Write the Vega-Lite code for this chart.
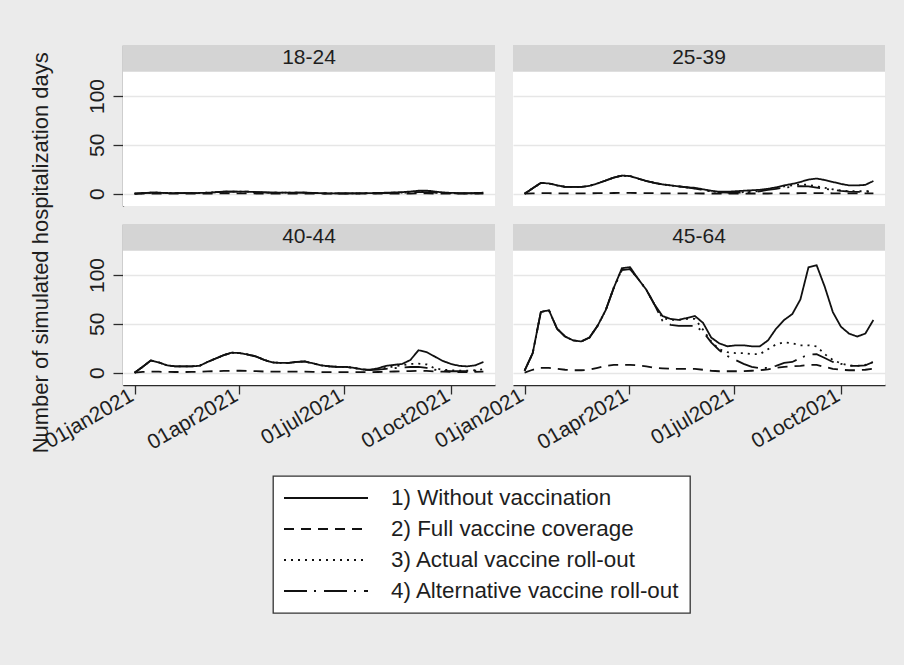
{
  "$schema": "https://vega.github.io/schema/vega-lite/v6.json",
  "background": "#ebebeb",
  "padding": {"left": 30, "top": 44, "right": 20, "bottom": 52},
  "title": {"text": "Number of simulated hospitalization days", "orient": "left", "anchor": "middle", "fontSize": 22, "fontWeight": "normal", "color": "#1e1e1e", "font": "Liberation Sans", "offset": -12, "dx": 76},
  "config": {
    "font": "Liberation Sans",
    "view": {"fill": "white", "stroke": null},
    "header": {"labels": false, "title": null, "labelPadding": 0, "titlePadding": 0},
    "axis": {"domainColor": "#2b2b2b", "tickColor": "#2b2b2b", "domainWidth": 1.3, "tickWidth": 1.3, "labelColor": "#1e1e1e", "titleColor": "#1e1e1e", "labelFontSize": 21, "titleFontSize": 21, "titleFontWeight": "normal", "gridColor": "#e6e6e6", "gridWidth": 1.5},
    "legend": {"strokeWidth": 1.3}
  },
  "data": {"values": [
    {"age":"18-24","date":"2021-01-01","without":0,"full":0,"actual":0,"alternative":0},
    {"age":"18-24","date":"2021-01-08","without":0.5,"full":0.1,"actual":0.5,"alternative":0.5},
    {"age":"18-24","date":"2021-01-15","without":1,"full":0.2,"actual":1,"alternative":1},
    {"age":"18-24","date":"2021-01-22","without":1,"full":0.2,"actual":1,"alternative":1},
    {"age":"18-24","date":"2021-01-29","without":0.7,"full":0.2,"actual":0.7,"alternative":0.7},
    {"age":"18-24","date":"2021-02-05","without":0.5,"full":0.1,"actual":0.5,"alternative":0.5},
    {"age":"18-24","date":"2021-02-12","without":0.5,"full":0.1,"actual":0.5,"alternative":0.5},
    {"age":"18-24","date":"2021-02-19","without":0.5,"full":0.1,"actual":0.5,"alternative":0.5},
    {"age":"18-24","date":"2021-02-26","without":0.7,"full":0.1,"actual":0.7,"alternative":0.7},
    {"age":"18-24","date":"2021-03-05","without":1,"full":0.2,"actual":1,"alternative":1},
    {"age":"18-24","date":"2021-03-12","without":1.5,"full":0.2,"actual":1.5,"alternative":1.5},
    {"age":"18-24","date":"2021-03-19","without":2,"full":0.3,"actual":2,"alternative":2},
    {"age":"18-24","date":"2021-03-26","without":2.2,"full":0.3,"actual":2.2,"alternative":2.2},
    {"age":"18-24","date":"2021-04-02","without":2.2,"full":0.3,"actual":2.2,"alternative":2.2},
    {"age":"18-24","date":"2021-04-09","without":2,"full":0.3,"actual":2,"alternative":2},
    {"age":"18-24","date":"2021-04-16","without":1.6,"full":0.2,"actual":1.6,"alternative":1.6},
    {"age":"18-24","date":"2021-04-23","without":1.3,"full":0.2,"actual":1.3,"alternative":1.3},
    {"age":"18-24","date":"2021-04-30","without":1,"full":0.2,"actual":1,"alternative":1},
    {"age":"18-24","date":"2021-05-07","without":1,"full":0.2,"actual":1,"alternative":1},
    {"age":"18-24","date":"2021-05-14","without":1,"full":0.2,"actual":1,"alternative":1},
    {"age":"18-24","date":"2021-05-21","without":1,"full":0.2,"actual":1,"alternative":1},
    {"age":"18-24","date":"2021-05-28","without":1,"full":0.2,"actual":1,"alternative":1},
    {"age":"18-24","date":"2021-06-04","without":0.8,"full":0.1,"actual":0.7,"alternative":0.7},
    {"age":"18-24","date":"2021-06-11","without":0.5,"full":0.1,"actual":0.4,"alternative":0.4},
    {"age":"18-24","date":"2021-06-18","without":0.4,"full":0.1,"actual":0.3,"alternative":0.3},
    {"age":"18-24","date":"2021-06-25","without":0.4,"full":0.1,"actual":0.3,"alternative":0.3},
    {"age":"18-24","date":"2021-07-02","without":0.4,"full":0.1,"actual":0.3,"alternative":0.3},
    {"age":"18-24","date":"2021-07-09","without":0.4,"full":0.1,"actual":0.3,"alternative":0.3},
    {"age":"18-24","date":"2021-07-16","without":0.5,"full":0.1,"actual":0.4,"alternative":0.3},
    {"age":"18-24","date":"2021-07-23","without":0.6,"full":0.1,"actual":0.5,"alternative":0.4},
    {"age":"18-24","date":"2021-07-30","without":0.8,"full":0.1,"actual":0.6,"alternative":0.5},
    {"age":"18-24","date":"2021-08-06","without":1,"full":0.2,"actual":0.8,"alternative":0.6},
    {"age":"18-24","date":"2021-08-13","without":1.3,"full":0.2,"actual":1,"alternative":0.8},
    {"age":"18-24","date":"2021-08-20","without":1.6,"full":0.2,"actual":1.2,"alternative":1},
    {"age":"18-24","date":"2021-08-27","without":2.2,"full":0.2,"actual":1.6,"alternative":1.3},
    {"age":"18-24","date":"2021-09-03","without":3,"full":0.3,"actual":2,"alternative":1.6},
    {"age":"18-24","date":"2021-09-10","without":3.2,"full":0.3,"actual":2,"alternative":1.6},
    {"age":"18-24","date":"2021-09-17","without":2.2,"full":0.2,"actual":1.4,"alternative":1.1},
    {"age":"18-24","date":"2021-09-24","without":1.3,"full":0.2,"actual":0.8,"alternative":0.7},
    {"age":"18-24","date":"2021-10-01","without":0.8,"full":0.1,"actual":0.5,"alternative":0.4},
    {"age":"18-24","date":"2021-10-08","without":0.6,"full":0.1,"actual":0.4,"alternative":0.3},
    {"age":"18-24","date":"2021-10-15","without":0.6,"full":0.1,"actual":0.4,"alternative":0.3},
    {"age":"18-24","date":"2021-10-22","without":0.7,"full":0.1,"actual":0.4,"alternative":0.3},
    {"age":"18-24","date":"2021-10-29","without":1,"full":0.1,"actual":0.5,"alternative":0.4},
    {"age":"25-39","date":"2021-01-01","without":0,"full":0,"actual":0,"alternative":0},
    {"age":"25-39","date":"2021-01-08","without":5.5,"full":0.3,"actual":5.5,"alternative":5.5},
    {"age":"25-39","date":"2021-01-15","without":11,"full":0.5,"actual":11,"alternative":11},
    {"age":"25-39","date":"2021-01-22","without":10.5,"full":0.5,"actual":10.5,"alternative":10.5},
    {"age":"25-39","date":"2021-01-29","without":8.5,"full":0.4,"actual":8.5,"alternative":8.5},
    {"age":"25-39","date":"2021-02-05","without":7,"full":0.3,"actual":7,"alternative":7},
    {"age":"25-39","date":"2021-02-12","without":7,"full":0.3,"actual":7,"alternative":7},
    {"age":"25-39","date":"2021-02-19","without":7,"full":0.3,"actual":7,"alternative":7},
    {"age":"25-39","date":"2021-02-26","without":8,"full":0.4,"actual":8,"alternative":8},
    {"age":"25-39","date":"2021-03-05","without":10.5,"full":0.5,"actual":10.5,"alternative":10.5},
    {"age":"25-39","date":"2021-03-12","without":13.5,"full":0.6,"actual":13.5,"alternative":13.5},
    {"age":"25-39","date":"2021-03-19","without":16.5,"full":0.7,"actual":16.5,"alternative":16.5},
    {"age":"25-39","date":"2021-03-26","without":18.5,"full":0.8,"actual":18.5,"alternative":18.5},
    {"age":"25-39","date":"2021-04-02","without":18,"full":0.8,"actual":18,"alternative":18},
    {"age":"25-39","date":"2021-04-09","without":15.5,"full":0.7,"actual":15.5,"alternative":15.5},
    {"age":"25-39","date":"2021-04-16","without":13,"full":0.6,"actual":13,"alternative":13},
    {"age":"25-39","date":"2021-04-23","without":11,"full":0.5,"actual":11,"alternative":11},
    {"age":"25-39","date":"2021-04-30","without":9.5,"full":0.4,"actual":9.5,"alternative":9.5},
    {"age":"25-39","date":"2021-05-07","without":8.5,"full":0.4,"actual":8.5,"alternative":8.5},
    {"age":"25-39","date":"2021-05-14","without":7.5,"full":0.3,"actual":7.5,"alternative":7.5},
    {"age":"25-39","date":"2021-05-21","without":6.5,"full":0.3,"actual":6.5,"alternative":6.5},
    {"age":"25-39","date":"2021-05-28","without":6,"full":0.3,"actual":5.5,"alternative":5.3},
    {"age":"25-39","date":"2021-06-04","without":4.5,"full":0.2,"actual":4,"alternative":3.8},
    {"age":"25-39","date":"2021-06-11","without":3,"full":0.2,"actual":2.5,"alternative":2.3},
    {"age":"25-39","date":"2021-06-18","without":2,"full":0.1,"actual":1.5,"alternative":1.3},
    {"age":"25-39","date":"2021-06-25","without":2,"full":0.1,"actual":1.2,"alternative":1},
    {"age":"25-39","date":"2021-07-02","without":2.5,"full":0.1,"actual":1.2,"alternative":1},
    {"age":"25-39","date":"2021-07-09","without":3,"full":0.1,"actual":1.5,"alternative":1.2},
    {"age":"25-39","date":"2021-07-16","without":3.5,"full":0.2,"actual":2,"alternative":1.6},
    {"age":"25-39","date":"2021-07-23","without":4,"full":0.2,"actual":3,"alternative":2.5},
    {"age":"25-39","date":"2021-07-30","without":5,"full":0.2,"actual":4.5,"alternative":3.8},
    {"age":"25-39","date":"2021-08-06","without":6.5,"full":0.3,"actual":6,"alternative":5},
    {"age":"25-39","date":"2021-08-13","without":8.5,"full":0.3,"actual":7.5,"alternative":6.2},
    {"age":"25-39","date":"2021-08-20","without":10,"full":0.4,"actual":8.5,"alternative":7},
    {"age":"25-39","date":"2021-08-27","without":12,"full":0.5,"actual":9.5,"alternative":7.8},
    {"age":"25-39","date":"2021-09-03","without":14.5,"full":0.5,"actual":9,"alternative":7.5},
    {"age":"25-39","date":"2021-09-10","without":15.5,"full":0.6,"actual":7.5,"alternative":6.2},
    {"age":"25-39","date":"2021-09-17","without":14,"full":0.5,"actual":6,"alternative":5},
    {"age":"25-39","date":"2021-09-24","without":12,"full":0.4,"actual":4.5,"alternative":3.8},
    {"age":"25-39","date":"2021-10-01","without":10,"full":0.3,"actual":3.2,"alternative":2.8},
    {"age":"25-39","date":"2021-10-08","without":8.5,"full":0.3,"actual":2.6,"alternative":2.1},
    {"age":"25-39","date":"2021-10-15","without":8.5,"full":0.3,"actual":2.5,"alternative":1.9},
    {"age":"25-39","date":"2021-10-22","without":9,"full":0.3,"actual":2.5,"alternative":1.9},
    {"age":"25-39","date":"2021-10-29","without":13,"full":0.4,"actual":3,"alternative":2.3},
    {"age":"40-44","date":"2021-01-01","without":0,"full":0,"actual":0,"alternative":0},
    {"age":"40-44","date":"2021-01-08","without":6,"full":0.8,"actual":6,"alternative":6},
    {"age":"40-44","date":"2021-01-15","without":12.5,"full":1,"actual":12.5,"alternative":12.5},
    {"age":"40-44","date":"2021-01-22","without":10.5,"full":1,"actual":10.5,"alternative":10.5},
    {"age":"40-44","date":"2021-01-29","without":7.5,"full":0.8,"actual":7.5,"alternative":7.5},
    {"age":"40-44","date":"2021-02-05","without":6.5,"full":0.7,"actual":6.5,"alternative":6.5},
    {"age":"40-44","date":"2021-02-12","without":6.5,"full":0.7,"actual":6.5,"alternative":6.5},
    {"age":"40-44","date":"2021-02-19","without":6.5,"full":0.8,"actual":6.5,"alternative":6.5},
    {"age":"40-44","date":"2021-02-26","without":7,"full":1,"actual":7,"alternative":7},
    {"age":"40-44","date":"2021-03-05","without":11,"full":1.3,"actual":11,"alternative":11},
    {"age":"40-44","date":"2021-03-12","without":14.5,"full":1.6,"actual":14.5,"alternative":14.5},
    {"age":"40-44","date":"2021-03-19","without":18,"full":1.8,"actual":18,"alternative":18},
    {"age":"40-44","date":"2021-03-26","without":20.5,"full":2,"actual":20.5,"alternative":20.5},
    {"age":"40-44","date":"2021-04-02","without":20,"full":2,"actual":20,"alternative":20},
    {"age":"40-44","date":"2021-04-09","without":18.5,"full":1.8,"actual":18.5,"alternative":18.5},
    {"age":"40-44","date":"2021-04-16","without":16.5,"full":1.5,"actual":16.5,"alternative":16.5},
    {"age":"40-44","date":"2021-04-23","without":13,"full":1.2,"actual":13,"alternative":13},
    {"age":"40-44","date":"2021-04-30","without":10.5,"full":1,"actual":10.5,"alternative":10.5},
    {"age":"40-44","date":"2021-05-07","without":10,"full":1,"actual":10,"alternative":10},
    {"age":"40-44","date":"2021-05-14","without":10,"full":1,"actual":10,"alternative":10},
    {"age":"40-44","date":"2021-05-21","without":11,"full":1,"actual":11,"alternative":11},
    {"age":"40-44","date":"2021-05-28","without":11.5,"full":1,"actual":11.5,"alternative":11.5},
    {"age":"40-44","date":"2021-06-04","without":9.5,"full":0.8,"actual":9.5,"alternative":9.5},
    {"age":"40-44","date":"2021-06-11","without":7.5,"full":0.6,"actual":7.5,"alternative":7.5},
    {"age":"40-44","date":"2021-06-18","without":6.5,"full":0.5,"actual":6.5,"alternative":6.5},
    {"age":"40-44","date":"2021-06-25","without":6,"full":0.5,"actual":6,"alternative":6},
    {"age":"40-44","date":"2021-07-02","without":6,"full":0.5,"actual":6,"alternative":6},
    {"age":"40-44","date":"2021-07-09","without":5,"full":0.5,"actual":5,"alternative":5},
    {"age":"40-44","date":"2021-07-16","without":3.5,"full":0.5,"actual":3.3,"alternative":3.2},
    {"age":"40-44","date":"2021-07-23","without":3,"full":0.5,"actual":2.8,"alternative":2.6},
    {"age":"40-44","date":"2021-07-30","without":4.5,"full":0.7,"actual":3.8,"alternative":3.2},
    {"age":"40-44","date":"2021-08-06","without":7,"full":1,"actual":5,"alternative":4},
    {"age":"40-44","date":"2021-08-13","without":8,"full":1.2,"actual":6.5,"alternative":4.6},
    {"age":"40-44","date":"2021-08-20","without":9,"full":1.4,"actual":7.5,"alternative":5.2},
    {"age":"40-44","date":"2021-08-27","without":13,"full":1.7,"actual":9,"alternative":5.8},
    {"age":"40-44","date":"2021-09-03","without":23,"full":2,"actual":9.2,"alternative":6},
    {"age":"40-44","date":"2021-09-10","without":21,"full":1.8,"actual":8.5,"alternative":5},
    {"age":"40-44","date":"2021-09-17","without":16.5,"full":1.3,"actual":4.5,"alternative":3},
    {"age":"40-44","date":"2021-09-24","without":12,"full":1,"actual":3,"alternative":2},
    {"age":"40-44","date":"2021-10-01","without":9,"full":0.8,"actual":2.5,"alternative":1.5},
    {"age":"40-44","date":"2021-10-08","without":7,"full":0.7,"actual":2,"alternative":1.5},
    {"age":"40-44","date":"2021-10-15","without":6.5,"full":0.7,"actual":2,"alternative":1.5},
    {"age":"40-44","date":"2021-10-22","without":7.5,"full":0.8,"actual":2.5,"alternative":2},
    {"age":"40-44","date":"2021-10-29","without":11,"full":1,"actual":3.5,"alternative":2.5},
    {"age":"45-64","date":"2021-01-01","without":2,"full":0,"actual":2,"alternative":2},
    {"age":"45-64","date":"2021-01-08","without":20,"full":3,"actual":20,"alternative":20},
    {"age":"45-64","date":"2021-01-15","without":62,"full":5,"actual":62,"alternative":62},
    {"age":"45-64","date":"2021-01-22","without":64,"full":5,"actual":64,"alternative":64},
    {"age":"45-64","date":"2021-01-29","without":45,"full":4,"actual":45,"alternative":45},
    {"age":"45-64","date":"2021-02-05","without":37,"full":3,"actual":37,"alternative":37},
    {"age":"45-64","date":"2021-02-12","without":33,"full":2.5,"actual":33,"alternative":33},
    {"age":"45-64","date":"2021-02-19","without":32,"full":2.5,"actual":32,"alternative":32},
    {"age":"45-64","date":"2021-02-26","without":36,"full":3,"actual":36,"alternative":36},
    {"age":"45-64","date":"2021-03-05","without":48,"full":5,"actual":48,"alternative":48},
    {"age":"45-64","date":"2021-03-12","without":64,"full":7,"actual":64,"alternative":64},
    {"age":"45-64","date":"2021-03-19","without":87,"full":8,"actual":87,"alternative":87},
    {"age":"45-64","date":"2021-03-26","without":107,"full":8,"actual":106,"alternative":105},
    {"age":"45-64","date":"2021-04-02","without":108,"full":8,"actual":106,"alternative":106},
    {"age":"45-64","date":"2021-04-09","without":96,"full":7.5,"actual":96,"alternative":96},
    {"age":"45-64","date":"2021-04-16","without":85,"full":6.5,"actual":85,"alternative":85},
    {"age":"45-64","date":"2021-04-23","without":70,"full":5,"actual":70,"alternative":70},
    {"age":"45-64","date":"2021-04-30","without":58,"full":4.5,"actual":56,"alternative":53},
    {"age":"45-64","date":"2021-05-07","without":55,"full":4,"actual":54,"alternative":49},
    {"age":"45-64","date":"2021-05-14","without":54,"full":4,"actual":54,"alternative":48},
    {"age":"45-64","date":"2021-05-21","without":56,"full":4,"actual":55,"alternative":48},
    {"age":"45-64","date":"2021-05-28","without":58,"full":4,"actual":55,"alternative":48},
    {"age":"45-64","date":"2021-06-04","without":51,"full":3,"actual":44,"alternative":42},
    {"age":"45-64","date":"2021-06-11","without":36,"full":2,"actual":32,"alternative":31},
    {"age":"45-64","date":"2021-06-18","without":30,"full":1.5,"actual":24,"alternative":23},
    {"age":"45-64","date":"2021-06-25","without":27,"full":1.5,"actual":21,"alternative":17},
    {"age":"45-64","date":"2021-07-02","without":28,"full":1.5,"actual":20,"alternative":13},
    {"age":"45-64","date":"2021-07-09","without":28,"full":1.5,"actual":20,"alternative":9},
    {"age":"45-64","date":"2021-07-16","without":27,"full":2,"actual":19,"alternative":6},
    {"age":"45-64","date":"2021-07-23","without":27,"full":2.5,"actual":19,"alternative":4.5},
    {"age":"45-64","date":"2021-07-30","without":33,"full":3.5,"actual":24,"alternative":5},
    {"age":"45-64","date":"2021-08-06","without":45,"full":5,"actual":29,"alternative":7},
    {"age":"45-64","date":"2021-08-13","without":54,"full":6,"actual":31,"alternative":10},
    {"age":"45-64","date":"2021-08-20","without":60,"full":6.5,"actual":30,"alternative":11},
    {"age":"45-64","date":"2021-08-27","without":75,"full":7,"actual":28,"alternative":15},
    {"age":"45-64","date":"2021-09-03","without":108,"full":8,"actual":28,"alternative":18.5},
    {"age":"45-64","date":"2021-09-10","without":110,"full":8,"actual":27,"alternative":19},
    {"age":"45-64","date":"2021-09-17","without":88,"full":6,"actual":19,"alternative":15},
    {"age":"45-64","date":"2021-09-24","without":62,"full":4,"actual":13,"alternative":11},
    {"age":"45-64","date":"2021-10-01","without":47,"full":3,"actual":9.5,"alternative":9},
    {"age":"45-64","date":"2021-10-08","without":40,"full":2.5,"actual":7.5,"alternative":7},
    {"age":"45-64","date":"2021-10-15","without":37,"full":2.5,"actual":7,"alternative":7},
    {"age":"45-64","date":"2021-10-22","without":40,"full":3,"actual":8,"alternative":7.5},
    {"age":"45-64","date":"2021-10-29","without":54,"full":4,"actual":11,"alternative":11}
  ]},
  "transform": [{"fold": ["without", "full", "actual", "alternative"], "as": ["scenario", "value"]}],
  "facet": {"field": "age", "type": "nominal", "header": {"title": null, "labels": false, "labelExpr": "''", "labelFontSize": 1, "labelPadding": 0}},
  "columns": 2,
  "spacing": {"row": 17, "column": 18},
  "spec": {
    "width": 372,
    "height": 161,
    "layer": [
      {
        "transform": [{"aggregate": [{"op": "count", "as": "n"}], "groupby": ["age"]}],
        "mark": {"type": "rect", "color": "#d4d4d4"},
        "encoding": {
          "y": {"datum": 124.9, "type": "quantitative"},
          "y2": {"datum": 152.2}
        }
      },
      {
        "transform": [{"aggregate": [{"op": "count", "as": "n"}], "groupby": ["age"]}],
        "mark": {"type": "text", "fontSize": 21, "color": "#1e1e1e", "baseline": "middle", "align": "center"},
        "encoding": {
          "y": {"datum": 138.5, "type": "quantitative"},
          "text": {"field": "age", "type": "nominal"}
        }
      },
      {
        "mark": {"type": "line", "color": "#111111", "strokeWidth": 1.8},
        "encoding": {
          "x": {
            "field": "date", "type": "temporal",
            "scale": {"domain": [{"year": 2020, "month": 12, "date": 22}, {"year": 2021, "month": 11, "date": 8}], "nice": false},
            "axis": {
              "title": null, "grid": false, "tickSize": 9, "labelPadding": 0, "labelOffset": -3,
              "values": [{"year": 2021, "month": 1, "date": 1}, {"year": 2021, "month": 4, "date": 1}, {"year": 2021, "month": 7, "date": 1}, {"year": 2021, "month": 10, "date": 1}],
              "labelExpr": "lower(timeFormat(datum.value, '%d%b%Y'))",
              "labelAngle": -30, "labelAlign": "right", "labelBaseline": "middle",
              "labelFlush": false, "labelOverlap": false, "labelBound": false
            }
          },
          "y": {
            "field": "value", "type": "quantitative",
            "scale": {"domain": [-12.6, 152.2], "nice": false, "zero": false},
            "axis": {
              "title": null,
              "values": [0, 50, 100], "grid": true, "tickSize": 10, "labelPadding": 6,
              "labelAngle": -90, "labelAlign": "center", "labelBaseline": "bottom"
            }
          },
          "strokeDash": {
            "field": "scenario", "type": "nominal",
            "scale": {"domain": ["without", "full", "actual", "alternative"], "range": [[1, 0], [10, 7], [2, 5], [23, 7, 2, 8]]},
            "legend": {
              "title": null, "orient": "none", "legendX": 150, "legendY": 431, "direction": "vertical",
              "symbolType": "stroke", "symbolSize": 7056, "symbolStrokeWidth": 1.8, "symbolStrokeColor": "#111111",
              "labelFontSize": 22.4, "labelColor": "#1e1e1e", "labelOffset": 22, "labelLimit": 500,
              "padding": 10, "strokeColor": "#333333", "fillColor": "white",
              "clipHeight": 24, "rowPadding": 7,
              "labelExpr": "datum.label == 'without' ? '1) Without vaccination' : datum.label == 'full' ? '2) Full vaccine coverage' : datum.label == 'actual' ? '3) Actual vaccine roll-out' : '4) Alternative vaccine roll-out'"
            }
          }
        }
      }
    ]
  }
}
